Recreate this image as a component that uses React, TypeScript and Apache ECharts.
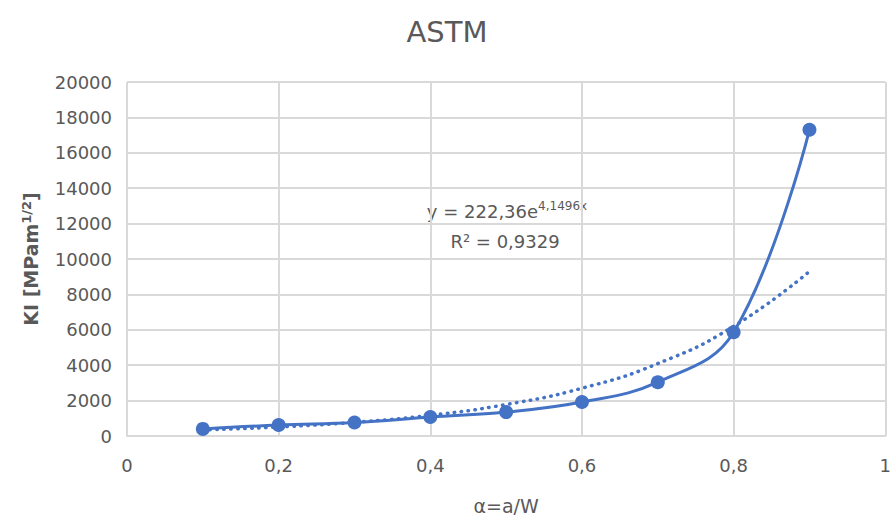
import React, { useEffect, useRef } from "react";
import * as echarts from "echarts";

const xValues = [0.1, 0.2, 0.3, 0.4, 0.5, 0.6, 0.7, 0.8, 0.9];
const kiValues = [400, 620, 760, 1070, 1350, 1920, 3040, 5860, 17300];
const trendValues = [340, 510, 775, 1175, 1780, 2700, 4090, 6200, 9300];
const titleText = "ASTM";
const xAxisName = "α=a/W";

const FONT = "'DejaVu Sans', sans-serif";
const BLUE = "#4472C4";
const GREY = "#595959";

function fmt(v: number) {
  return String(Math.round(v * 10) / 10).replace(".", ",");
}

export default function App() {
  const ref = useRef<HTMLDivElement>(null);
  useEffect(() => {
    if (!ref.current) return;
    const chart = echarts.init(ref.current, undefined, { renderer: "svg" });
    chart.setOption({
      animation: false,
      backgroundColor: "#ffffff",
      textStyle: { fontFamily: FONT },
      title: {
        text: titleText,
        left: "center",
        top: 12,
        textStyle: { fontFamily: FONT, fontSize: 29, fontWeight: "normal", color: GREY },
      },
      grid: { left: 127, right: 7, top: 82, bottom: 83, containLabel: false },
      xAxis: {
        type: "value",
        min: 0,
        max: 1,
        interval: 0.2,
        name: xAxisName,
        nameLocation: "middle",
        nameGap: 60,
        nameTextStyle: { fontFamily: FONT, fontSize: 19, color: GREY },
        axisLine: { show: true, lineStyle: { color: "#d9d9d9", width: 2 } },
        axisTick: { show: false },
        axisLabel: { color: GREY, fontSize: 18, margin: 20, fontFamily: FONT, formatter: (v: number) => fmt(v) },
        splitLine: { show: true, lineStyle: { color: "#d9d9d9", width: 2 } },
      },
      yAxis: {
        type: "value",
        min: 0,
        max: 20000,
        interval: 2000,
        name: "{b|KI [MPam}{s|1/2}{b|]}",
        nameLocation: "middle",
        nameGap: 86,
        nameRotate: 90,
        nameTextStyle: {
          rich: {
            b: { fontFamily: FONT, fontSize: 19, fontWeight: "bold", color: GREY },
            s: { fontFamily: FONT, fontSize: 13, fontWeight: "bold", color: GREY, verticalAlign: "top", padding: [0, 0, 8, 0] },
          },
        },
        axisLine: { show: false },
        axisTick: { show: false },
        axisLabel: { color: GREY, fontSize: 18, margin: 15, fontFamily: FONT, formatter: (v: number) => String(v) },
        splitLine: { show: true, lineStyle: { color: "#d9d9d9", width: 2 } },
      },
      series: [
        {
          type: "line",
          name: "trend",
          data: xValues.map((x, i) => [x, trendValues[i]]),
          smooth: 0.5,
          showSymbol: false,
          symbol: "none",
          lineStyle: { color: BLUE, width: 3.5, type: [0.5, 6.5], cap: "round" },
          z: 2,
        },
        {
          type: "line",
          name: "KI",
          data: xValues.map((x, i) => [x, kiValues[i]]),
          smooth: 0.4,
          symbol: "circle",
          symbolSize: 14,
          itemStyle: { color: BLUE },
          lineStyle: { color: BLUE, width: 3 },
          z: 3,
        },
      ],
      graphic: [
        {
          type: "text",
          x: 507,
          y: 211,
          style: {
            text: "{n|y = 222,36e}{s|4,1496x}",
            align: "center",
            verticalAlign: "middle",
            rich: {
              n: { fontFamily: FONT, fontSize: 18, fill: GREY },
              s: { fontFamily: FONT, fontSize: 12, fill: GREY, verticalAlign: "top", padding: [0, 0, 10, 0] },
            },
          },
        },
        {
          type: "text",
          x: 505,
          y: 241,
          style: {
            text: "R² = 0,9329",
            align: "center",
            verticalAlign: "middle",
            fontFamily: FONT,
            fontSize: 18,
            fill: GREY,
          },
        },
      ],
    });
    return () => chart.dispose();
  }, []);
  return <div ref={ref} style={{ width: 894, height: 520, position: "absolute", left: 0, top: 0 }} />;
}
